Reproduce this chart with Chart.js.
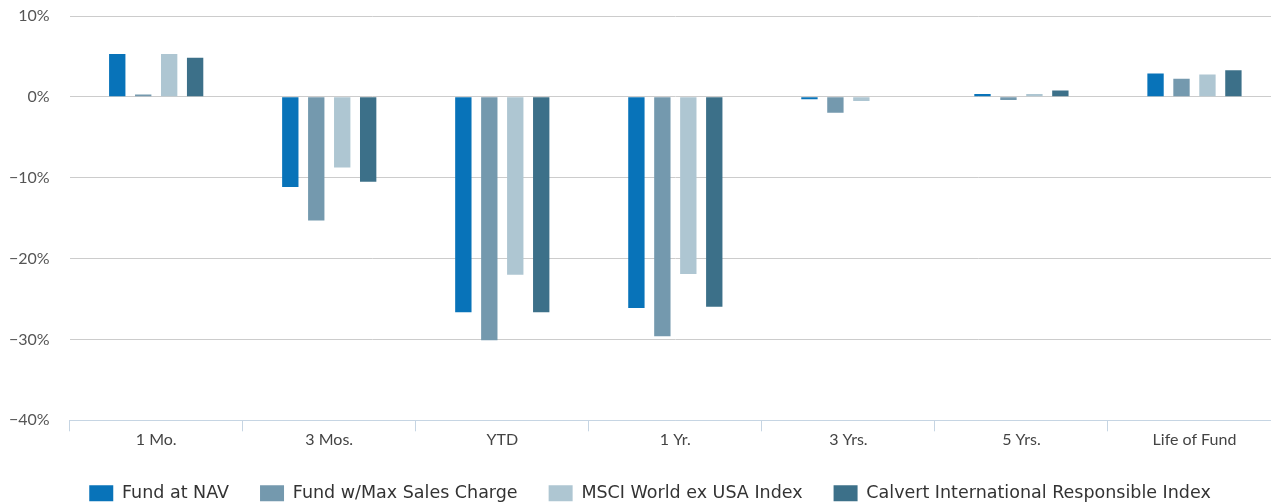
<!DOCTYPE html>
<html>
<head>
<meta charset="utf-8">
<script src="https://cdn.jsdelivr.net/npm/chart.js"></script>
<style>
  html, body { margin: 0; padding: 0; background: #fff; overflow: hidden; }
  #wrap { width: 1281px; height: 512px; }
</style>
</head>
<body>
<div id="wrap"><canvas id="myChart"></canvas></div>
<script>
// data
const categories = ['1 Mo.', '3 Mos.', 'YTD', '1 Yr.', '3 Yrs.', '5 Yrs.', 'Life of Fund'];
const fundAtNav = [5.3, -11.15, -26.65, -26.1, -0.3, 0.35, 2.9];
const fundMaxSales = [0.3, -15.3, -30.1, -29.6, -1.95, -0.4, 2.25];
const msciWorldExUsa = [5.3, -8.75, -22.0, -21.9, -0.5, 0.35, 2.75];
const calvertIntl = [4.85, -10.5, -26.65, -25.95, 0, 0.8, 3.3];
const yTicks = [10, 0, -10, -20, -30, -40];

const bar = (label, values, color) => ({
  label,
  data: values,
  backgroundColor: color,
  borderWidth: 0,
  barPercentage: 0.63,
  categoryPercentage: 0.6
});

// nudge the legend a little to the right, like the original
const legendShift = {
  id: 'legendShift',
  beforeDraw(chart) {
    if (!chart.legend || chart.legend._shifted) return;
    chart.legend.left += 15;
    chart.legend.right += 15;
    chart.legend._shifted = true;
  },
  afterLayout(chart) {
    if (chart.legend) chart.legend._shifted = false;
  }
};

const data = {
  labels: categories,
  datasets: [
    bar('Fund at NAV', fundAtNav, '#0873b9'),
    bar('Fund w/Max Sales Charge', fundMaxSales, '#7499ae'),
    bar('MSCI World ex USA Index', msciWorldExUsa, '#aec6d2'),
    bar('Calvert International Responsible Index', calvertIntl, '#3c7089')
  ]
};

const config = {
  type: 'bar',
  data,
  plugins: [legendShift],
  options: {
    responsive: true,
    maintainAspectRatio: false,
    animation: false,
    layout: { padding: { top: 16, right: 0, left: -11, bottom: 0 } },
    plugins: {
      tooltip: { enabled: false },
      legend: {
        position: 'bottom',
        labels: {
          boxWidth: 24,
          boxHeight: 16,
          padding: 31,
          color: '#333',
          font: { family: 'DejaVu Sans', size: 17.5 }
        }
      }
    },
    scales: {
      y: {
        min: -40,
        max: 10,
        afterBuildTicks: (axis) => { axis.ticks = yTicks.map(v => ({ value: v })); },
        afterFit: (s) => { s.paddingTop = 0; s.paddingBottom = 0; },
        grid: { color: '#cccccc', lineWidth: 1, drawTicks: false },
        border: { display: false },
        ticks: {
          color: '#555',
          padding: 20,
          font: { family: 'Lato', size: 16 },
          callback: (v) => (v < 0 ? '\u2212' : '') + Math.abs(v) + '%'
        }
      },
      x: {
        afterFit: (s) => { s.height += 5; },
        grid: {
          offset: true,
          drawOnChartArea: false,
          color: '#c6d5e3',
          tickLength: 11
        },
        border: { display: true, color: '#c6d5e3' },
        ticks: {
          color: '#444',
          padding: -1,
          font: { family: 'Lato', size: 16 }
        }
      }
    }
  }
};

const myChart = new Chart(document.getElementById('myChart'), config);
</script>
</body>
</html>
